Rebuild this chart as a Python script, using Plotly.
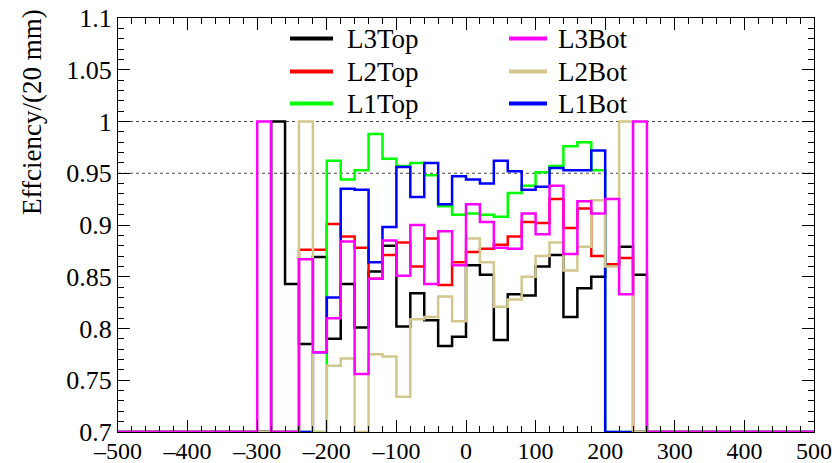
import numpy as np
import plotly.graph_objects as go

# ---------------- data (efficiency per 20 mm bin) ----------------
BIN_WIDTH = 20
X_MIN, X_MAX = -500, 500
FIRST_BIN = -300  # lower edge of first listed bin; all other bins are empty (0)

L3Top = [0, 1.0, 0.843, 0.785, 0.869, 0.790, 0.843, 0.801, 0.855, 0.880,
         0.802, 0.834, 0.808, 0.783, 0.792, 0.861, 0.852, 0.789, 0.833, 0.832,
         0.860, 0.871, 0.811, 0.839, 0.850, 0.862, 0.879, 0.852]
L2Top = [0, 0, 0, 0.876, 0.876, 0.901, 0.889, 0.878, 0.848, 0.871,
         0.883, 0.860, 0.887, 0.842, 0.864, 0.874, 0.877, 0.881, 0.889, 0.903,
         0.902, 0.925, 0.897, 0.916, 0.870, 0.862, 0.868, 0]
L1Top = [0, 0, 0, 0, 0, 0.962, 0.944, 0.953, 0.988, 0.964,
         0.957, 0.960, 0.948, 0.918, 0.910, 0.911, 0.910, 0.908, 0.931, 0.938,
         0.951, 0.957, 0.976, 0.980, 0.953, 0, 0, 0]
L3Bot = [1.0, 0, 0, 0.867, 0.777, 0.810, 0.884, 0.756, 0.848, 0.885,
         0.851, 0.900, 0.843, 0.894, 0.861, 0.920, 0.903, 0.878, 0.877, 0.911,
         0.891, 0.938, 0.872, 0.923, 0.911, 0.925, 0.833, 1.0]
L2Bot = [0, 0, 0, 1.0, 0, 0.764, 0.771, 0, 0.775, 0.773,
         0.734, 0.809, 0.811, 0.831, 0.807, 0.887, 0.864, 0.821, 0.828, 0.850,
         0.870, 0.883, 0.856, 0.879, 0.924, 0.860, 1.0, 0]
L1Bot = [0, 0, 0, 0, 0.777, 0.830, 0.935, 0.934, 0.864, 0.898,
         0.956, 0.927, 0.960, 0.920, 0.947, 0.944, 0.940, 0.962, 0.952, 0.934,
         0.937, 0.955, 0.953, 0.953, 0.972, 0, 0, 0]

X_TICKS = [-500, -400, -300, -200, -100, 0, 100, 200, 300, 400, 500]
X_TICK_LABELS = ["\u2013500", "\u2013400", "\u2013300", "\u2013200", "\u2013100", "0",
                 "100", "200", "300", "400", "500"]
Y_TICKS = [0.7, 0.75, 0.8, 0.85, 0.9, 0.95, 1.0, 1.05, 1.1]
Y_TICK_LABELS = ["0.7", "0.75", "0.8", "0.85", "0.9", "0.95", "1", "1.05", "1.1"]
GRID_LEVELS = [0.95, 1.0]
Y_MIN, Y_MAX = 0.7, 1.1
Y_TITLE = "Effciency/(20 mm)"

# ---------------- layout geometry (pixels) ----------------
W, H = 838, 463
ML, MR, MT, MB = 118, 24, 18, 31
PW, PH = W - ML - MR, H - MT - MB


def px_x(p):  # page pixel -> paper x
    return (p - ML) / PW


def px_y(p):  # page pixel -> paper y
    return (H - MB - p) / PH


# ---------------- build histogram step lines ----------------
edges = np.arange(X_MIN, X_MAX + BIN_WIDTH, BIN_WIDTH)
n_bins = len(edges) - 1
start = int((FIRST_BIN - X_MIN) // BIN_WIDTH)


def full_hist(vals):
    h = np.zeros(n_bins)
    h[start:start + len(vals)] = vals
    h = np.maximum(h, Y_MIN)  # empty bins are drawn on the frame, as ROOT does
    return np.append(h, h[-1])


FONT = "Liberation Serif, Times New Roman, serif"

# name, values, colour, legend column, legend row   (list order = draw order)
series = [
    ("L3Top", L3Top, "#000000", 0, 0),
    ("L2Top", L2Top, "#ff0000", 0, 1),
    ("L1Top", L1Top, "#00ff00", 0, 2),
    ("L1Bot", L1Bot, "#0000ff", 1, 2),
    ("L2Bot", L2Bot, "#d2c88e", 1, 1),
    ("L3Bot", L3Bot, "#ff00ff", 1, 0),
]

fig = go.Figure()
for name, vals, color, col, row in series:
    fig.add_trace(go.Scatter(
        x=edges, y=full_hist(vals), mode="lines", name=name,
        line=dict(color=color, width=2.5, shape="hv"),
        showlegend=False, hoverinfo="skip",
    ))

for lvl in GRID_LEVELS:
    fig.add_shape(type="line", xref="x", yref="y", x0=X_MIN, x1=X_MAX, y0=lvl, y1=lvl,
                  line=dict(color="#444444", width=1, dash="dot"), layer="below")

# legend drawn as ROOT-style two-column box without border
LEG_ROWS = [38.5, 71.5, 103.5]
LEG_LINE = [(290, 333), (509, 547)]
LEG_TEXT = [345, 556]
annotations = []
for name, vals, color, col, row in series:
    y = px_y(LEG_ROWS[row])
    fig.add_shape(type="line", xref="paper", yref="paper",
                  x0=px_x(LEG_LINE[col][0]), x1=px_x(LEG_LINE[col][1]), y0=y, y1=y,
                  line=dict(color=color, width=4))
    annotations.append(dict(text=name, xref="paper", yref="paper",
                            x=px_x(LEG_TEXT[col]), y=y, xanchor="left", yanchor="middle",
                            showarrow=False,
                            font=dict(family=FONT, size=27, color="black")))

annotations.append(dict(
    text=Y_TITLE, xref="paper", yref="paper",
    x=px_x(32), y=px_y(112), textangle=-90, showarrow=False,
    xanchor="center", yanchor="middle",
    font=dict(family=FONT, size=27, color="black"),
))

axis_common = dict(
    showline=True, linecolor="black", linewidth=1, mirror="allticks",
    ticks="inside", tickcolor="black", ticklen=12, tickwidth=1,
    showgrid=False, zeroline=False, automargin=False,
)

fig.update_xaxes(range=[X_MIN, X_MAX], tickvals=X_TICKS, ticktext=X_TICK_LABELS,
                 tickfont=dict(family=FONT, size=24, color="black"),
                 ticklabelstandoff=-3,
                 minor=dict(ticks="inside", dtick=20, ticklen=6, tickcolor="black", showgrid=False),
                 **axis_common)
fig.update_yaxes(range=[Y_MIN, Y_MAX], tickvals=Y_TICKS, ticktext=Y_TICK_LABELS,
                 tickfont=dict(family=FONT, size=26, color="black"),
                 minor=dict(ticks="inside", dtick=0.01, ticklen=6, tickcolor="black", showgrid=False),
                 **axis_common)

fig.update_layout(
    width=W, height=H,
    margin=dict(l=ML, r=MR, t=MT, b=MB),
    paper_bgcolor="white", plot_bgcolor="white",
    showlegend=False,
    annotations=annotations,
)

# remove the page's default body margin so the figure fills the window exactly
fig.write_html("out.html", config={"displayModeBar": False},
               post_script="document.body.style.margin='0px';")
